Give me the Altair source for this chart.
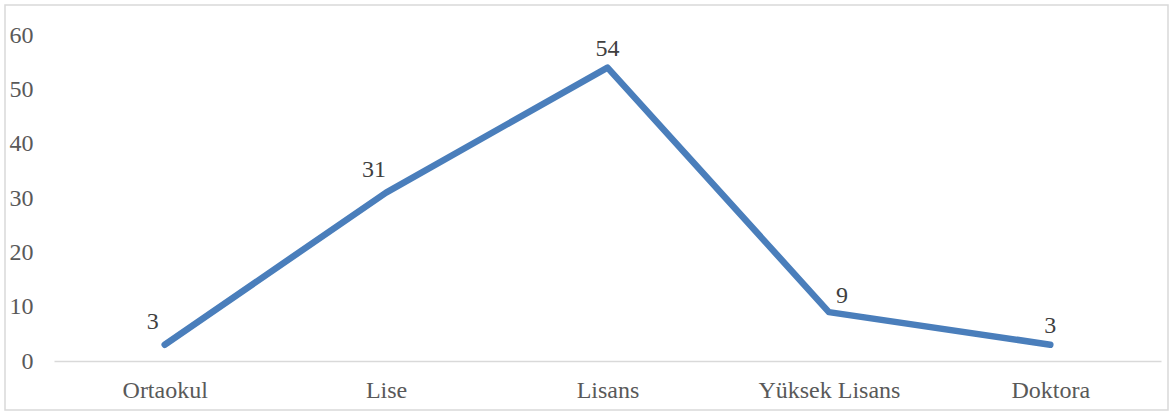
import altair as alt
import pandas as pd

categories = ["Ortaokul", "Lise", "Lisans", "Yüksek Lisans", "Doktora"]
values = [3, 31, 54, 9, 3]

df = pd.DataFrame({"cat": categories, "val": values})

# label placement side derived from the line's direction around each point
sides = []
for i, v in enumerate(values):
    prev = values[i - 1] if i > 0 else None
    nxt = values[i + 1] if i < len(values) - 1 else None
    if nxt is not None and nxt > v and (prev is None or prev < v):
        sides.append("left")
    elif prev is not None and nxt is not None and prev > v > nxt:
        sides.append("right")
    else:
        sides.append("center")
df["side"] = sides

FONT = "Times New Roman, Liberation Serif, serif"

xscale = alt.Scale(type="point", padding=0.5)
x = alt.X("cat:N", sort=categories, title=None, scale=xscale,
          axis=alt.Axis(labelAngle=0, ticks=False, domainColor="#d9d9d9", domainWidth=1.5,
                        labelFont=FONT, labelFontSize=24, labelColor="#595959",
                        labelPadding=17, grid=False))
y = alt.Y("val:Q", title=None,
          scale=alt.Scale(domain=[0, 60], nice=False),
          axis=alt.Axis(values=[0, 10, 20, 30, 40, 50, 60], domain=False, ticks=False, grid=False,
                        labelFont=FONT, labelFontSize=24, labelColor="#595959", labelPadding=21))

base = alt.Chart(df)

border = base.mark_rect(fillOpacity=0, stroke="#d9d9d9", strokeWidth=1.5, clip=False).encode(
    x=alt.value(-49), x2=alt.value(1114), y=alt.value(-30), y2=alt.value(375)
).transform_filter("datum.cat == 'Ortaokul'")

line = base.mark_line(color="#4a7ebb", strokeWidth=6.5, strokeCap="round", strokeJoin="round").encode(x=x, y=y)


def label_layer(side, dx, dy):
    return base.mark_text(font=FONT, fontSize=24, color="#404040", dx=dx, dy=dy,
                          baseline="alphabetic").encode(
        x=alt.X("cat:N", sort=categories, scale=xscale),
        y="val:Q", text="val:Q").transform_filter(f"datum.side == '{side}'")


labels_left = label_layer("left", -12, -16)
labels_center = label_layer("center", 0, -12)
labels_right = label_layer("right", 13, -9)

chart = alt.layer(border, line, labels_left, labels_center, labels_right).properties(
    width=1107, height=326,
    autosize=alt.AutoSizeParams(type="none"),
    padding={"left": 54, "top": 35, "right": 10, "bottom": 52},
).configure(background="white").configure_view(strokeWidth=0, stroke="transparent")

chart.save("out.html", embed_options={"renderer": "svg", "actions": False})
